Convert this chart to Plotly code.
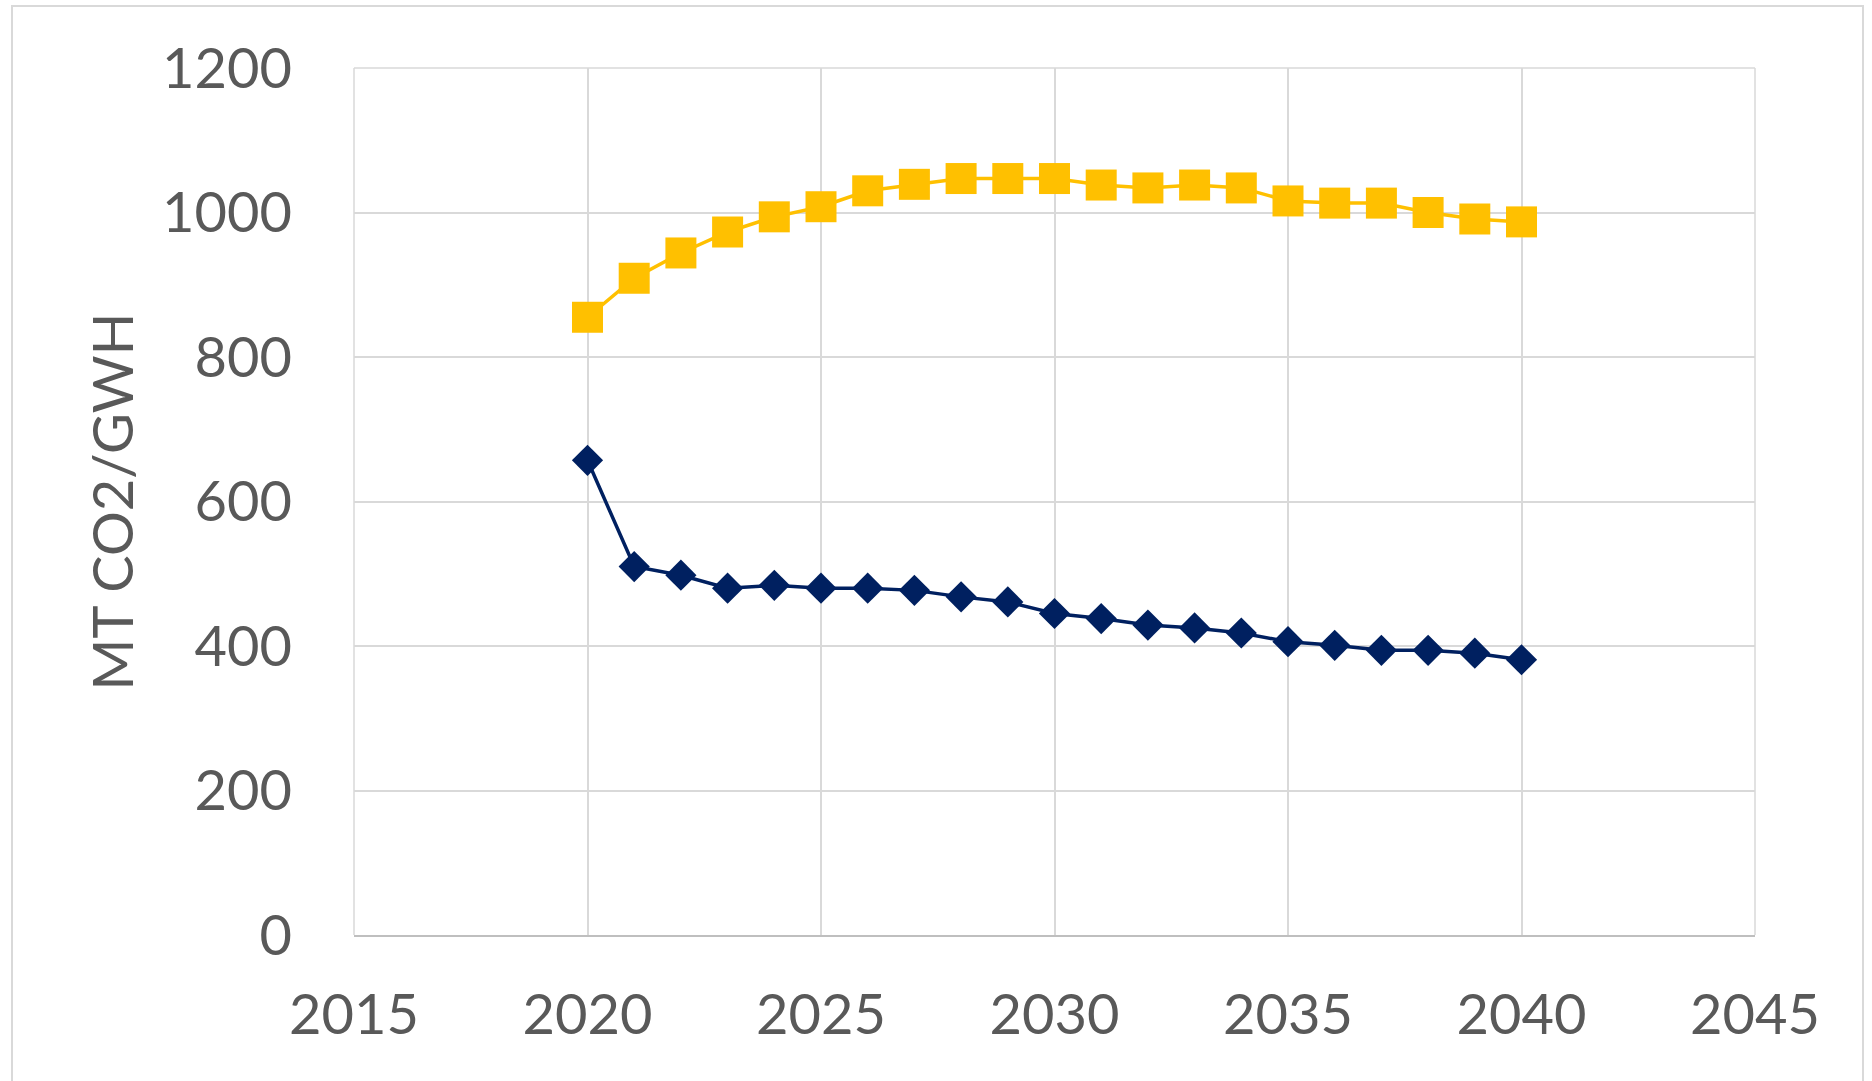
import plotly.graph_objects as go

# Emission intensity by year (MT CO2 per GWh)
years = list(range(2020, 2041))
series_high = [855, 909, 944, 973, 994, 1008, 1030, 1039, 1047, 1047, 1047,
               1038, 1034, 1038, 1034, 1016, 1013, 1013, 1000, 991, 987]
series_low = [657, 510, 498, 480, 484, 480, 480, 477, 468, 461, 445,
              438, 429, 425, 418, 406, 401, 394, 394, 390, 381]

x_ticks = [2015, 2020, 2025, 2030, 2035, 2040, 2045]
y_ticks = [0, 200, 400, 600, 800, 1000, 1200]
y_title = "MT CO2/GWH"

W, H = 1872, 1081
L, R, T, B = 354, 117, 68, 146
plot_w, plot_h = W - L - R, H - T - B

def px_x(p):
    return (p - L) / plot_w

def px_y(p):
    return (H - B - p) / plot_h

font_family = "Lato, 'Noto Sans', sans-serif"
text_color = "#595959"
grid_color = "#d9d9d9"

fig = go.Figure()
fig.add_trace(go.Scatter(
    x=years, y=series_high, mode="lines+markers",
    line=dict(color="#FFC000", width=3.5),
    marker=dict(symbol="square", size=31, color="#FFC000"),
    showlegend=False,
))
fig.add_trace(go.Scatter(
    x=years, y=series_low, mode="lines+markers",
    line=dict(color="#002060", width=3.5),
    marker=dict(symbol="diamond", size=24, color="#002060"),
    showlegend=False,
))

fig.update_layout(
    width=W, height=H,
    margin=dict(l=L, r=R, t=T, b=B, pad=0),
    paper_bgcolor="white", plot_bgcolor="white",
    font=dict(family=font_family, size=56, color=text_color),
    shapes=[dict(
        type="rect", xref="paper", yref="paper", layer="below",
        x0=px_x(12), x1=px_x(1863), y0=px_y(1100), y1=px_y(6),
        line=dict(color="#d9d9d9", width=2), fillcolor="rgba(0,0,0,0)",
    )],
)

fig.update_xaxes(
    range=[2015, 2045], tickvals=x_ticks, ticktext=[str(v) for v in x_ticks],
    showgrid=True, gridcolor=grid_color, gridwidth=1.5,
    showline=True, linecolor="#bfbfbf", linewidth=2, mirror=False,
    zeroline=False, ticks="", ticklabelstandoff=30,
    tickfont=dict(family=font_family, size=56, color=text_color),
)
fig.update_yaxes(
    range=[0, 1200], tickvals=y_ticks, ticktext=[str(v) for v in y_ticks],
    showgrid=True, gridcolor=grid_color, gridwidth=1.5,
    showline=False, zeroline=False, ticks="", ticklabelstandoff=61,
    tickfont=dict(family=font_family, size=56, color=text_color),
    title=dict(text=y_title, standoff=10,
               font=dict(family=font_family, size=56, color=text_color)),
)

# frame the plot area with gridline-coloured edges (top, left, right)
fig.add_shape(type="line", xref="paper", yref="paper", x0=0, x1=1, y0=1, y1=1,
              line=dict(color=grid_color, width=1.5))
fig.add_shape(type="line", xref="paper", yref="paper", x0=0, x1=0, y0=0, y1=1,
              line=dict(color=grid_color, width=1.5))
fig.add_shape(type="line", xref="paper", yref="paper", x0=1, x1=1, y0=0, y1=1,
              line=dict(color=grid_color, width=1.5))

fig.write_html("out.html")
